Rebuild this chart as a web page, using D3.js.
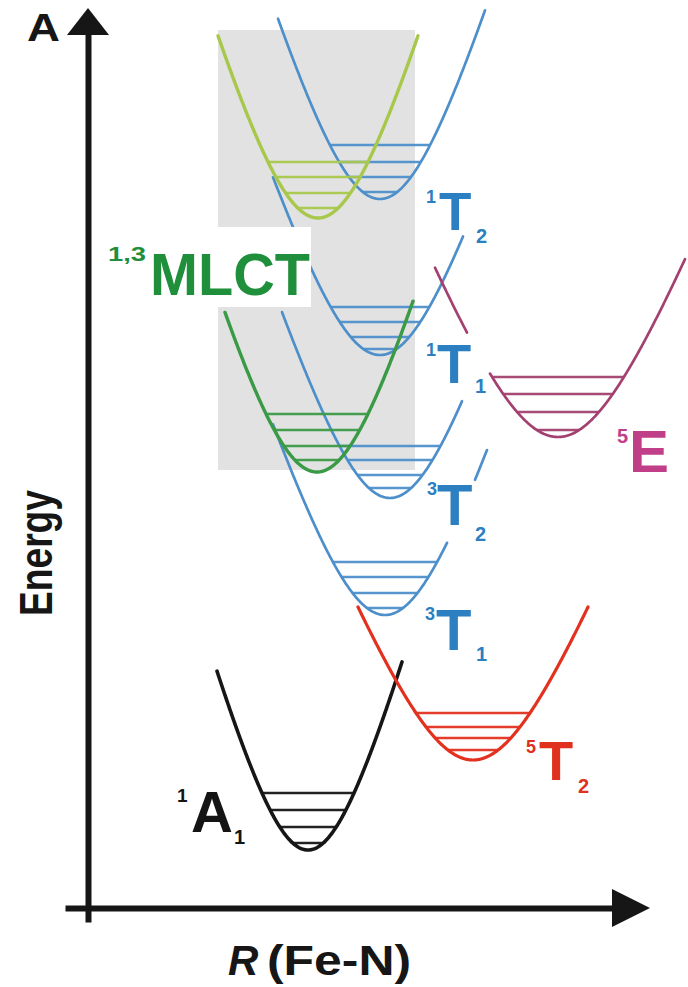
<!DOCTYPE html>
<html><head><meta charset="utf-8">
<script src="https://cdn.jsdelivr.net/npm/d3@7/dist/d3.min.js"></script>
<style>html,body{margin:0;padding:0;background:#fff;} svg{display:block;}</style>
</head><body>
<svg id="chart" width="688" height="987"></svg>
<script>
// ---------------- DATA ----------------
const stateNames    = ["1A1","5T2","3T1","3T2","1T1","1T2","MLCT_low","MLCT_high","5E"];
const stateColors   = ["#161616","#e2321f","#4d8fca","#4d8fca","#4d8fca","#4d8fca","#3a9a46","#a8c84b","#a3406f"];
// minimum position along R (Fe-N) and minimum energy (arbitrary units)
const wellCenters   = [220, 385, 297, 302, 292, 292, 229, 230, 470];
const wellMinima    = [58, 148, 293, 410, 553, 709, 436, 690, 471];
// well shape: width and steepness
const wellWidths    = [60, 76, 70, 68, 70, 70, 70, 70, 80];
const wellSteepness = [219, 188, 215, 212, 215, 235, 245, 245, 203];
// drawn R ranges of each well (gaps where labels sit)
const armSegments = [
  [[129,314]],
  [[270,500]],
  [[185,359],[387,399]],
  [[194,374]],
  [[185,375]],
  [[190,397]],
  [[137,325]],
  [[130,330]],
  [[347,379],[402,597]]
];
// vibrational levels (energy above the well minimum)
const vibLevels = [
  [7,23,40,57],
  [10,22,33,47],
  [7,22,38,53],
  [10,23,38,52],
  [6,18,33,48],
  [7,22,37,54],
  [12,26,42,58],
  [10,25,41,56],
  [7,25,43,60]
];
// shaded MLCT band (R range, E range)
const mlctBandR = [130, 327];
const mlctBandE = [438, 878];

// labels
const labelSup  = ["1","5","3","3","1","1","1,3","5"];
const labelMain = ["A","T","T","T","T","T","MLCT","E"];
const labelSub  = ["1","2","1","2","1","2","",""];
const labelColors = ["#141414","#e0301e","#2c7fc0","#2c7fc0","#2c7fc0","#2c7fc0","#1f8f3c","#c03f88"];
const panelLetter = "A";
const yTitle = "Energy";
const xTitleVar = "R";
const xTitleRest = "(Fe-N)";

// ---------------- LAYOUT ----------------
const W = 688, H = 987;
const svg = d3.select("#chart");
const FONT = "'Liberation Sans', Arial, Helvetica, sans-serif";

const x = d3.scaleLinear().domain([0, 562]).range([88, 650]);
const y = d3.scaleLinear().domain([0, 900]).range([908, 8]);

// shaded band
svg.append("rect")
  .attr("x", x(mlctBandR[0])).attr("y", y(mlctBandE[1]))
  .attr("width", x(mlctBandR[1]) - x(mlctBandR[0]))
  .attr("height", y(mlctBandE[0]) - y(mlctBandE[1]))
  .attr("fill", "#e2e2e2");

// well energy
function wellE(i, r) {
  const t = (r - wellCenters[i]) / wellWidths[i];
  return wellMinima[i] + wellSteepness[i] * (Math.sqrt(1 + t * t) - 1);
}
function halfWidthAt(i, h) {
  const k = 1 + h / wellSteepness[i];
  return wellWidths[i] * Math.sqrt(k * k - 1);
}
const line = d3.line().x(d => x(d[0])).y(d => y(d[1]));

const curveWidths = [3.6, 3.2, 2.7, 2.7, 2.7, 2.7, 3.4, 3.4, 2.7];
const vibWidths   = [2.5, 2.5, 2.3, 2.3, 2.3, 2.3, 2.5, 2.5, 2.3];
const drawOrder = [0, 5, 4, 3, 2, 1, 8, 7, 6];

const gWells = svg.append("g");
drawOrder.forEach(i => {
  const g = gWells.append("g");
  vibLevels[i].forEach(h => {
    const hw = halfWidthAt(i, h);
    const e = wellMinima[i] + h;
    g.append("path")
      .attr("d", line([[wellCenters[i] - hw, e], [wellCenters[i] + hw, e]]))
      .attr("stroke", stateColors[i]).attr("stroke-width", vibWidths[i])
      .attr("fill", "none").attr("opacity", 0.95);
  });
  armSegments[i].forEach(seg => {
    const pts = d3.range(seg[0], seg[1] + 0.001, 0.5).map(r => [r, wellE(i, r)]);
    g.append("path").attr("d", line(pts))
      .attr("stroke", stateColors[i]).attr("stroke-width", curveWidths[i])
      .attr("fill", "none").attr("stroke-linecap", "round");
  });
});

// white box behind the MLCT label
svg.append("rect").attr("x", 100).attr("y", 227).attr("width", 211).attr("height", 80).attr("fill", "#fff");

// axes (no ticks)
const xAxisScale = d3.scaleLinear().domain([x.invert(65), x.invert(616)]).range([65, 616]);
const yAxisScale = d3.scaleLinear().domain([y.invert(922), y.invert(30)]).range([922, 30]);
const gx = svg.append("g").attr("transform", `translate(0,${y(0)})`)
  .call(d3.axisBottom(xAxisScale).tickValues([]).tickSizeOuter(0));
const gy = svg.append("g").attr("transform", `translate(${x(0)},0)`)
  .call(d3.axisLeft(yAxisScale).tickValues([]).tickSizeOuter(0));
[gx, gy].forEach(g => g.select(".domain").attr("stroke", "#161616").attr("stroke-width", 6));

// arrowheads
svg.append("path").attr("d", `M${x(0)},${y(900)} L${x(0) - 21},${y(873)} L${x(0) + 21},${y(873)} Z`).attr("fill", "#161616");
svg.append("path").attr("d", `M${x(562)},${y(0)} L${x(524)},${y(0) - 19} L${x(524)},${y(0) + 19} Z`).attr("fill", "#161616");

// axis titles
svg.append("text").attr("x", 27).attr("y", 41).text(panelLetter)
  .attr("font-family", FONT).attr("font-weight", "bold").attr("font-size", 38)
  .attr("textLength", 33).attr("lengthAdjust", "spacingAndGlyphs").attr("fill", "#161616");
svg.append("text").attr("transform", "translate(52,553) rotate(-90)")
  .attr("text-anchor", "middle").text(yTitle)
  .attr("font-family", FONT).attr("font-weight", "bold").attr("font-size", 46)
  .attr("textLength", 126).attr("lengthAdjust", "spacingAndGlyphs").attr("fill", "#161616");
svg.append("text").attr("x", 228).attr("y", 975).text(xTitleVar)
  .attr("font-family", FONT).attr("font-weight", "bold").attr("font-style", "italic")
  .attr("font-size", 42).attr("fill", "#161616");
svg.append("text").attr("x", 267).attr("y", 975).text(xTitleRest)
  .attr("font-family", FONT).attr("font-weight", "bold")
  .attr("font-size", 42).attr("textLength", 144).attr("lengthAdjust", "spacingAndGlyphs").attr("fill", "#161616");

// state labels: [supX, supBase, supSize, mainX, mainBase, mainSize, subX, subBase, subSize, mainLen, supLen]
const labelLayout = [
  [177, 802, 19, 191, 832, 58, 234, 844, 20, 0, 0],
  [526, 753, 18, 539, 780, 56, 578, 793, 20, 0, 0],
  [425, 620, 18, 436, 650, 58, 476, 661, 20, 0, 0],
  [427, 495, 18, 437, 525, 58, 475, 541, 20, 0, 0],
  [426, 356, 18, 437, 383, 56, 475, 393, 20, 0, 0],
  [426, 203, 18, 439, 230, 53, 476, 243, 20, 0, 0],
  [108, 261, 20, 150, 295, 60, 0, 0, 0, 160, 38],
  [617, 443, 20, 629, 472, 60, 0, 0, 0, 0, 0]
];
labelMain.forEach((m, k) => {
  const L = labelLayout[k];
  const g = svg.append("g").attr("font-family", FONT).attr("font-weight", "bold").attr("fill", labelColors[k]);
  const s = g.append("text").attr("x", L[0]).attr("y", L[1]).attr("font-size", L[2]).text(labelSup[k]);
  if (L[10]) s.attr("textLength", L[10]).attr("lengthAdjust", "spacingAndGlyphs");
  const t = g.append("text").attr("x", L[3]).attr("y", L[4]).attr("font-size", L[5]).text(m);
  if (L[9]) t.attr("textLength", L[9]).attr("lengthAdjust", "spacingAndGlyphs");
  if (labelSub[k]) g.append("text").attr("x", L[6]).attr("y", L[7]).attr("font-size", L[8]).text(labelSub[k]);
});
</script>
</body></html>
